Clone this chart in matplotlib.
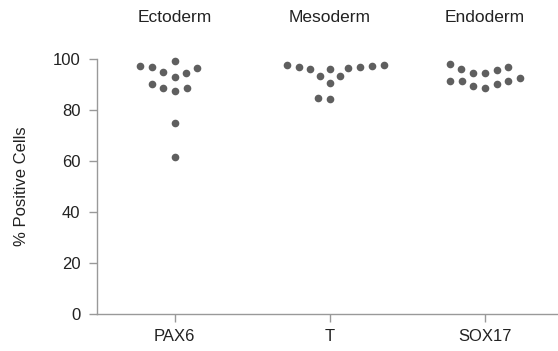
import pandas as pd
import matplotlib
matplotlib.use("Agg")
import matplotlib.pyplot as plt
import seaborn as sns

# values (% positive cells)
groups = ["Ectoderm", "Mesoderm", "Endoderm"]
markers = ["PAX6", "T", "SOX17"]
pax6 = [97.3, 96.6, 99.3, 94.6, 93.1, 94.8, 96.7, 88.5, 87.6, 88.5, 90.1, 74.8, 61.4]
t_vals = [97.4, 97.0, 96.6, 96.0, 96.1, 97.0, 97.5, 97.5, 93.3, 93.3, 90.7, 84.2, 84.8]
sox17 = [97.9, 96.0, 94.6, 94.4, 95.7, 97.0, 92.4, 91.4, 90.2, 88.8, 89.5, 91.4, 91.5]

df = pd.DataFrame({
    "marker": ["PAX6"] * len(pax6) + ["T"] * len(t_vals) + ["SOX17"] * len(sox17),
    "value": pax6 + t_vals + sox17,
})

plt.rcParams["font.family"] = ["Liberation Sans", "DejaVu Sans"]

fig = plt.figure(figsize=(5.58, 3.51), dpi=100)
ax = fig.add_axes([0.174, 0.105, 0.826, 0.727])

# swarm laid out with a larger marker so the dots end up spaced apart
sns.swarmplot(data=df, x="marker", y="value", order=markers, color="#5f5f5f",
              size=8.3, linewidth=0, ax=ax, clip_on=False)

ax.set_xlim(-0.5, 2.47)
ax.set_ylim(0, 100)
ax.set_yticks([0, 20, 40, 60, 80, 100])
ax.set_xlabel("")
ax.set_ylabel("% Positive Cells", fontsize=12, color="#222222", labelpad=17)

for s in ["top", "right"]:
    ax.spines[s].set_visible(False)
for s in ["left", "bottom"]:
    ax.spines[s].set_color("#999999")
    ax.spines[s].set_linewidth(1.0)
ax.tick_params(axis="both", colors="#999999", length=6, width=1.0,
               labelcolor="#222222", labelsize=12)
ax.tick_params(axis="y", pad=6)
ax.tick_params(axis="x", pad=5)

for i, g in enumerate(groups):
    ax.text(i, 1.161, g, transform=ax.get_xaxis_transform(), ha="center",
            va="center", fontsize=12.5, color="#222222")

# compute the swarm, then shrink the dots
fig.canvas.draw()
for coll in ax.collections:
    if "draw" in coll.__dict__:
        del coll.draw
    coll.set_sizes([5.5 ** 2])

fig.savefig("out.png", dpi=100)
